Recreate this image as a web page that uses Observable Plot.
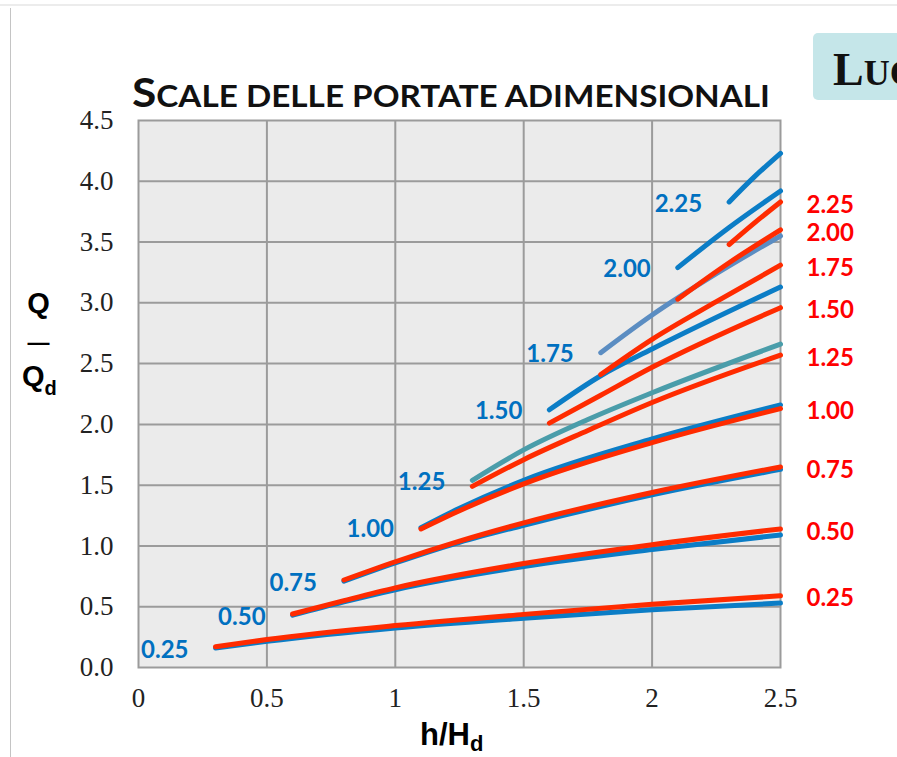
<!DOCTYPE html>
<html><head><meta charset="utf-8">
<script src="https://cdn.jsdelivr.net/npm/d3@7"></script>
<script src="https://cdn.jsdelivr.net/npm/@observablehq/plot@0.6"></script>
<style>
html,body{margin:0;padding:0;background:#fff;width:897px;height:757px;overflow:hidden;position:relative}
#topline{position:absolute;left:0;top:4px;width:897px;height:2px;background:#ECECEC}
#leftline{position:absolute;left:10px;top:8px;width:1px;height:749px;background:#C4C4C4}
#chart{position:absolute;left:0;top:0}
#deco{position:absolute;left:0;top:0;pointer-events:none}
#luc{position:absolute;left:813px;top:33px;width:84px;height:67px;background:#C5E6E9;border-radius:5px 0 0 5px;overflow:hidden;
 font-family:"Liberation Serif";font-weight:bold;color:#111;white-space:nowrap;line-height:1}
#luc span.big{position:absolute;left:20px;top:14px;font-size:46px}
</style></head>
<body>
<div id="topline"></div>
<div id="leftline"></div>
<div id="chart"></div>
<div id="luc"><span class="big">L<span style="font-size:36px">UC</span></span></div>
<svg id="deco" width="897" height="757">
  <text x="132" y="107" textLength="638" lengthAdjust="spacingAndGlyphs" font-family="Lato" font-weight="700" fill="#111"><tspan font-size="40">S</tspan><tspan font-size="30">CALE DELLE PORTATE ADIMENSIONALI</tspan></text>
  <g font-family="Liberation Sans" font-weight="700" fill="#000">
    <text x="38.5" y="313" font-size="29" text-anchor="middle">Q</text>
    <text x="38.5" y="350" font-size="22" text-anchor="middle">—</text>
    <text x="22" y="386" font-size="29">Q<tspan font-size="20" dy="9">d</tspan></text>
    <text x="420" y="745" font-size="31">h/H<tspan font-size="22" dy="6">d</tspan></text>
  </g>
</svg>
<script>
// ---- data ----
const ratioLabels = ["0.25","0.50","0.75","1.00","1.25","1.50","1.75","2.00","2.25"];
const curveX = [
  [0.3, 0.5, 1.0, 1.5, 2.0, 2.5],
  [0.6, 0.8, 1.0, 1.5, 2.0, 2.5],
  [0.8, 1.0, 1.25, 1.5, 2.0, 2.5],
  [1.1, 1.25, 1.5, 2.0, 2.5],
  [1.3, 1.5, 1.75, 2.0, 2.5],
  [1.6, 1.8, 2.0, 2.5],
  [1.8, 2.0, 2.25, 2.5],
  [2.1, 2.3, 2.5],
  [2.3, 2.4, 2.5]
];
const blueY = [
  [0.16, 0.215, 0.325, 0.405, 0.475, 0.53],
  [0.43, 0.54, 0.64, 0.83, 0.97, 1.09],
  [0.71, 0.86, 1.03, 1.17, 1.42, 1.63],
  [1.15, 1.31, 1.54, 1.88, 2.16],
  [1.54, 1.79, 2.04, 2.26, 2.66],
  [2.12, 2.40, 2.62, 3.13],
  [2.59, 2.90, 3.24, 3.55],
  [3.29, 3.62, 3.92],
  [3.83, 4.04, 4.23]
];
const redY = [
  [0.17, 0.23, 0.345, 0.437, 0.52, 0.59],
  [0.44, 0.55, 0.655, 0.855, 1.01, 1.14],
  [0.72, 0.87, 1.04, 1.19, 1.44, 1.65],
  [1.14, 1.29, 1.51, 1.85, 2.13],
  [1.49, 1.71, 1.95, 2.18, 2.57],
  [2.01, 2.24, 2.47, 2.96],
  [2.41, 2.70, 3.01, 3.31],
  [3.03, 3.33, 3.60],
  [3.48, 3.66, 3.83]
];
const xTicks = [0, 0.5, 1, 1.5, 2, 2.5];
const yTicks = [0, 0.5, 1, 1.5, 2, 2.5, 3, 3.5, 4, 4.5];

// ---- styles ----
const BLUE = "#0B7DC6", TEAL = "#4A9DAA", STEEL = "#5B8DC2", RED = "#FF2B00";
const blueColors = [BLUE, BLUE, BLUE, BLUE, TEAL, BLUE, STEEL, BLUE, BLUE];
const GRID = "#9B9B9B";

const pts = (xs, ys) => xs.map((x, j) => ({x, y: ys[j]}));
const lineOpts = (c) => ({x: "x", y: "y", stroke: c, strokeWidth: 5, curve: "monotone-x", strokeLinecap: "round", strokeLinejoin: "round"});

const marks = [
  Plot.frame({fill: "#EBEBEB"}),
  Plot.ruleX(xTicks.slice(1, -1), {stroke: GRID, strokeWidth: 2}),
  Plot.ruleY(yTicks.slice(1, -1), {stroke: GRID, strokeWidth: 2}),
  Plot.frame({stroke: GRID, strokeWidth: 2}),
  ...curveX.map((xs, i) => Plot.line(pts(xs, blueY[i]), lineOpts(blueColors[i]))),
  ...curveX.map((xs, i) => Plot.line(pts(xs, redY[i]), lineOpts(RED))),
  Plot.text(ratioLabels, {
    x: (d, i) => curveX[i][0], y: (d, i) => blueY[i][0], text: d => d,
    dx: -27, dy: 2, textAnchor: "end", fill: "#0070C0",
    fontSize: 24, fontWeight: "bold", fontFamily: "Lato"
  }),
  Plot.text(ratioLabels, {
    x: (d, i) => curveX[i][curveX[i].length - 1], y: (d, i) => redY[i][redY[i].length - 1], text: d => d,
    dx: 26, dy: 3, textAnchor: "start", fill: "#FF0000",
    fontSize: 24, fontWeight: "bold", fontFamily: "Lato"
  }),
  Plot.axisY(yTicks, {tickSize: 0, tickPadding: 25, tickFormat: d3.format(".1f"), fontSize: 27, fontFamily: "Liberation Serif", label: null, fill: "#222"}),
  Plot.axisX(xTicks, {tickSize: 0, tickPadding: 20, tickFormat: d => String(d), fontSize: 27, fontFamily: "Liberation Serif", label: null, fill: "#222"})
];

const chart = Plot.plot({
  width: 897, height: 757,
  marginLeft: 138, marginRight: 117, marginTop: 120, marginBottom: 90,
  x: {domain: [0, 2.5]},
  y: {domain: [0, 4.5]},
  style: {background: "transparent", fontFamily: "Liberation Serif", color: "#222"},
  marks
});
document.getElementById("chart").appendChild(chart);
</script>
</body></html>
